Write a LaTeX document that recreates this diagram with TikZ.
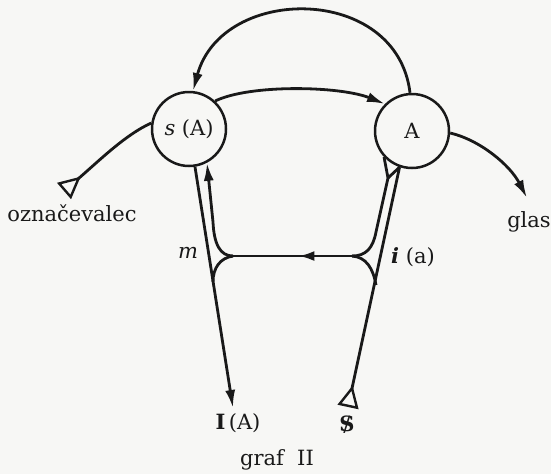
\documentclass[tikz,border=0pt]{standalone}
\usepackage{fontspec}
\setmainfont{DejaVu Serif}
\usetikzlibrary{arrows.meta,decorations.markings}
\definecolor{ink}{RGB}{25,25,25}
\definecolor{paper}{RGB}{247,247,245}
\begin{document}
\begin{tikzpicture}[x=1pt,y=-1pt]
\tikzset{
  wire/.style={draw=ink, line width=2.8pt},
  circ/.style={circle, draw=ink, line width=2.5pt, minimum size=74pt, inner sep=0pt,
               font=\fontsize{21}{25}\selectfont, text=ink},
  lbl/.style={font=\fontsize{21}{25}\selectfont, text=ink, inner sep=0pt},
  headtip/.style={-{Latex[length=18pt,width=10pt]}},
  srctip/.style={-{Triangle[open,reversed,length=22pt,width=21pt,line width=2.4pt]}},
  midhead/.style={postaction={decorate}, decoration={markings,
      mark=at position #1 with {\arrow{Latex[length=16pt,width=10pt]}}}},
}
\fill[paper] (0,0) rectangle (551,474);
\useasboundingbox (0,0) rectangle (551,474);

\node[circ] (sA) at (189,129) {\textit{s} (A)};
\node[circ] (A) at (412,131) {A};

\coordinate (oz) at (64,191);
\coordinate (gl) at (527,198);
\coordinate (ia) at (233,408);
\coordinate (sg) at (348,407);
\coordinate (JL) at (233,256);
\coordinate (JR) at (352,256);
\coordinate (fk) at (388,178);
\coordinate (ol) at (213,282);
\coordinate (or) at (376,285);

% top arc
\draw[wire,headtip] (A.93) .. controls (397,-16) and (222,-16) .. (sA.84);
% middle arc
\draw[wire,headtip] (sA.47) .. controls (250,84) and (340,86) .. (A.135);
% to označevalec
\draw[wire,srctip] (sA.171) .. controls (125,135) and (100,160) .. (oz);
% to glas
\draw[wire,headtip] (A.-3) .. controls (480,140) and (510,165) .. (gl);
% outer left
\draw[wire,headtip] (sA.-81) -- (ia);
% inner left
\draw[wire,headtip] (JL) .. controls (220,256) and (214,244) .. (213,222) -- (sA.-62);
% horizontal
\draw[wire,midhead=0.45] (JR) -- (JL);
% lower left branch
\draw[wire] (JL) .. controls (220,258) and (213,268) .. (ol);
% inner right
\draw[wire] (JR) .. controls (366,256) and (373,248) .. (376,232) -- (fk);
\draw[wire] (fk) -- (A.-137);
\draw[wire] (fk) -- (A.-109);
% lower right branch
\draw[wire] (JR) .. controls (366,257) and (373,268) .. (or);
% outer right
\draw[wire,srctip] (A.-109) -- (sg);

\node[lbl] (tOz) at (72,213) {označevalec};
\node[lbl] (tGl) at (529,222) {glas};
\node[lbl] (tM) at (188,253) {\textit{m}};
\node[lbl] (tI) at (413,257) {\textbf{\textit{i}} (a)};
\node[lbl] (tIA) at (238,423) {\textbf{I}\,(A)};
\node[lbl] (tS) at (347,425) {\ooalign{\textbf{S}\cr\hidewidth/\hidewidth}};
\node[lbl] (tG) at (277,460) {graf\ \ II};
\end{tikzpicture}
\end{document}
